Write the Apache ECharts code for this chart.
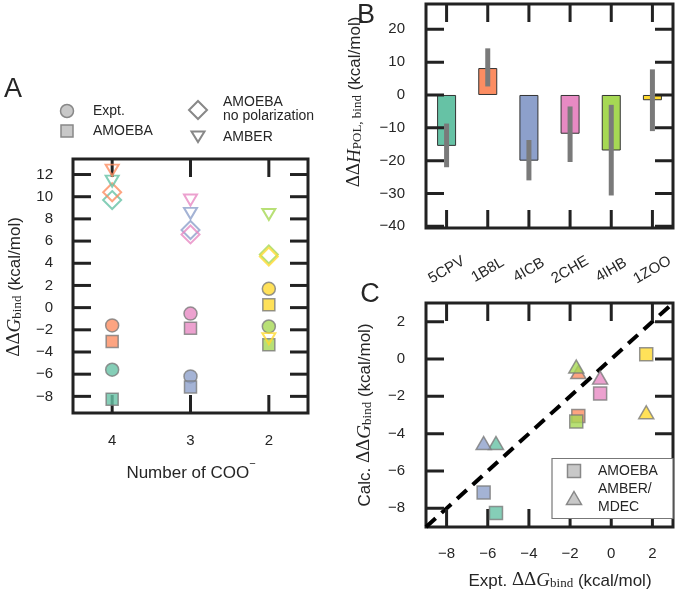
<!DOCTYPE html>
<html><head><meta charset="utf-8">
<script src="https://cdn.jsdelivr.net/npm/echarts@6/dist/echarts.min.js"></script>
<style>html,body{margin:0;padding:0;background:#fff}#c{width:677px;height:596px}</style>
</head><body><div id="c"></div>
<script>
// ---------------- data ----------------
const proteins = ['5CPV', '1B8L', '4ICB', '2CHE', '4IHB', '1ZOO'];
const colors = ['#66c2a5', '#fc8d62', '#8da0cb', '#e78ac3', '#a6d854', '#ffd92f'];
const nCOO = [4, 4, 3, 3, 2, 2];
const cooCategories = ['4', '3', '2'];
const expt = [-5.6, -1.6, -6.2, -0.54, -1.7, 1.7];
const amoeba = [-8.25, -3.05, -7.15, -1.85, -3.35, 0.25];
const amoebaNoPol = [9.7, 10.4, 7.0, 6.6, 4.8, 4.6];
const amber = [11.4, 12.4, 8.5, 9.7, 8.4, -2.8];
const amberMdec = [-4.5, -0.7, -4.5, -1.0, -0.4, -2.85];
const dHpol = [-15.5, 8.2, -20.0, -11.8, -16.9, -1.6];
const dHpolLow = [-22.0, 2.6, -26.0, -20.4, -30.6, -11.0];
const dHpolHigh = [-8.7, 14.2, -13.7, -3.5, -3.0, 7.8];
const ticksA = [-8, -6, -4, -2, 0, 2, 4, 6, 8, 10, 12];
const ticksB = [-40, -30, -20, -10, 0, 10, 20];
const ticksC = [-8, -6, -4, -2, 0, 2];
const diagonal = [-9, 3];

// ---------------- style ----------------
const FONT = '"Liberation Sans", Arial, sans-serif';
const SERIF = '"Liberation Serif", "DejaVu Serif", serif';
const TXT = '#262626';
const SPINE = '#222';
const fmt = v => v < 0 ? '\u2212' + Math.abs(v) : String(v);
const labelStyle = {color: TXT, fontSize: 15, fontFamily: FONT};
// plot boxes: [left, top, width, height]
const BOXES = [[73, 159, 235, 254], [426, 4, 247, 224], [426, 303, 247, 224]];
// axis ranges per panel
const RANGES = [
  {x: [-0.5, 2.5], y: [-9.5, 13.4]},
  {x: [-0.5, 5.5], y: [-40.5, 27.7]},
  {x: [-9, 3], y: [-9, 3]}
];

function valueAxis(grid, pos, min, max, ticks, margin) {
  return {type: 'value', gridIndex: grid, position: pos, min: min, max: max,
    axisLine: {show: false, onZero: false}, splitLine: {show: false}, axisTick: {show: false},
    axisLabel: Object.assign({}, labelStyle, {customValues: ticks, formatter: fmt, margin: margin})};
}
function catAxis(grid, pos, data, extra) {
  return {type: 'category', gridIndex: grid, position: pos, data: data, boundaryGap: true,
    axisLine: {show: false, onZero: false}, splitLine: {show: false}, axisTick: {show: false},
    axisLabel: Object.assign({}, labelStyle, {interval: 0}, extra || {})};
}
function hiddenAxis(grid, r) {
  return {type: 'value', gridIndex: grid, min: r[0], max: r[1], show: false,
    axisLine: {show: false, onZero: false}, splitLine: {show: false}, axisTick: {show: false}, axisLabel: {show: false}};
}

const EDGE = '#7a7a7a';
function filledPoints(xs, ys, isCat) {
  return proteins.map((p, i) => ({
    name: p,
    value: [isCat ? String(xs[i]) : xs[i], ys[i]],
    itemStyle: {color: colors[i], borderColor: EDGE, borderWidth: 1.5}
  }));
}
function openPoints(xs, ys) {
  return proteins.map((p, i) => ({
    name: p,
    value: [String(xs[i]), ys[i]],
    itemStyle: {color: 'rgba(0,0,0,0)', borderColor: colors[i], borderWidth: 2}
  }));
}

const series = [
  // Panel A
  {type: 'scatter', xAxisIndex: 0, yAxisIndex: 0, symbol: 'circle', symbolSize: 13, z: 3, data: filledPoints(nCOO, expt, true)},
  {type: 'scatter', xAxisIndex: 0, yAxisIndex: 0, symbol: 'rect', symbolSize: 12, z: 3, data: filledPoints(nCOO, amoeba, true)},
  {type: 'scatter', xAxisIndex: 0, yAxisIndex: 0, symbol: 'diamond', symbolSize: 18, z: 3, data: openPoints(nCOO, amoebaNoPol)},
  {type: 'scatter', xAxisIndex: 0, yAxisIndex: 0, symbol: 'triangle', symbolRotate: 180, symbolSize: [13, 11], z: 3, data: openPoints(nCOO, amber)},
  // Panel B
  {type: 'bar', xAxisIndex: 1, yAxisIndex: 1, barWidth: 19, z: 2,
    data: dHpol.map((v, i) => ({value: v, itemStyle: {color: colors[i], borderColor: '#333', borderWidth: 1}}))},
  {type: 'custom', xAxisIndex: 1, yAxisIndex: 1, z: 3,
    data: proteins.map((p, i) => [i, dHpolLow[i], dHpolHigh[i]]),
    encode: {x: 0, y: [1, 2]},
    renderItem: function (params, api) {
      const x = api.value(0);
      const p1 = api.coord([x, api.value(1)]);
      const p2 = api.coord([x, api.value(2)]);
      return {type: 'line', shape: {x1: p1[0], y1: p1[1], x2: p2[0], y2: p2[1]},
        style: {stroke: '#7a7a7a', lineWidth: 5}};
    }},
  // Panel C
  {type: 'line', xAxisIndex: 2, yAxisIndex: 2, symbol: 'none', z: 2, data: [[diagonal[0], diagonal[0]], [diagonal[1], diagonal[1]]],
    lineStyle: {color: '#000', width: 4, type: [13, 8], cap: 'butt'}},
  {type: 'scatter', xAxisIndex: 2, yAxisIndex: 2, symbol: 'rect', symbolSize: 13, z: 3, data: filledPoints(expt, amoeba, false)},
  {type: 'scatter', xAxisIndex: 2, yAxisIndex: 2, symbol: 'triangle', symbolSize: [15, 13], z: 3, data: filledPoints(expt, amberMdec, false)}
];

// inward ticks on all four sides: short line series on overlay grids (axes 3..5) with the same scales
const tickSpecs = [
  {xTicks: cooCategories.map((c, i) => i), yTicks: ticksA},
  {xTicks: proteins.map((p, i) => i), yTicks: ticksB},
  {xTicks: ticksC, yTicks: ticksC}
];
const TICK_PX = 18;
tickSpecs.forEach((s, k) => {
  const r = RANGES[k], b = BOXES[k];
  const dx = TICK_PX * (r.x[1] - r.x[0]) / b[2];
  const dy = TICK_PX * (r.y[1] - r.y[0]) / b[3];
  const segs = [];
  s.xTicks.forEach(v => {
    segs.push([[v, r.y[0]], [v, r.y[0] + dy]]);
    segs.push([[v, r.y[1]], [v, r.y[1] - dy]]);
  });
  s.yTicks.forEach(v => {
    segs.push([[r.x[0], v], [r.x[0] + dx, v]]);
    segs.push([[r.x[1], v], [r.x[1] - dx, v]]);
  });
  segs.forEach(seg => series.push({
    type: 'line', xAxisIndex: 3 + k, yAxisIndex: 3 + k, data: seg, symbol: 'none', silent: true, z: 2,
    clip: false, lineStyle: {color: SPINE, width: 3, cap: 'butt'}
  }));
});

// ---------------- text graphics ----------------
function richTitle(x, y, text, rotate) {
  return {type: 'text', x: x, y: y, rotation: rotate ? Math.PI / 2 : 0, silent: true,
    style: {text: text, fill: TXT, fontSize: 17, fontFamily: FONT, lineHeight: 24,
      align: 'center', verticalAlign: 'middle',
      rich: {
        d: {fontFamily: SERIF, fontSize: 19, lineHeight: 24, verticalAlign: 'bottom'},
        g: {fontFamily: SERIF, fontStyle: 'italic', fontSize: 19, lineHeight: 24, verticalAlign: 'bottom'},
        s: {fontFamily: SERIF, fontSize: 13, lineHeight: 12, verticalAlign: 'bottom'},
        sup: {fontFamily: FONT, fontSize: 11, lineHeight: 11, verticalAlign: 'top'},
        n: {fontFamily: FONT, fontSize: 17, lineHeight: 24, verticalAlign: 'bottom'}
      }}};
}
function txt(x, y, s, size, align) {
  return {type: 'text', x: x, y: y, silent: true,
    style: {text: s, fill: TXT, fontSize: size, fontFamily: FONT, align: align || 'left', verticalAlign: 'middle'}};
}
const LG_FILL = '#c8c8c8', LG_EDGE = '#888';
const graphics = [
  txt(13, 90, 'A', 27, 'center'),
  txt(366, 16, 'B', 27, 'center'),
  txt(370, 295, 'C', 27, 'center'),
  richTitle(12, 287, '{d|ΔΔ}{g|G}{s|bind}{n| (kcal/mol)}', true),
  richTitle(191, 470, '{n|Number of COO}{sup|\u2212}', false),
  richTitle(352, 102, '{d|ΔΔ}{g|H}{s|POL, bind}{n| (kcal/mol)}', true),
  richTitle(362, 415, '{n|Calc. }{d|ΔΔ}{g|G}{s|bind}{n| (kcal/mol)}', true),
  richTitle(560, 578, '{n|Expt. }{d|ΔΔ}{g|G}{s|bind}{n| (kcal/mol)}', false),
  // legend A
  {type: 'circle', shape: {cx: 67, cy: 111, r: 6.5}, style: {fill: LG_FILL, stroke: LG_EDGE, lineWidth: 1.5}, silent: true},
  {type: 'rect', shape: {x: 61, y: 125, width: 12, height: 12}, style: {fill: LG_FILL, stroke: LG_EDGE, lineWidth: 1.5}, silent: true},
  {type: 'polygon', shape: {points: [[198, 101], [207, 110], [198, 119], [189, 110]]}, style: {fill: 'none', stroke: LG_EDGE, lineWidth: 2}, silent: true},
  {type: 'polygon', shape: {points: [[191.5, 131.5], [204.5, 131.5], [198, 142]]}, style: {fill: 'none', stroke: LG_EDGE, lineWidth: 2}, silent: true},
  txt(93, 111, 'Expt.', 14),
  txt(93, 131, 'AMOEBA', 14),
  txt(223, 102, 'AMOEBA', 14),
  txt(223, 116, 'no polarization', 14),
  txt(223, 137, 'AMBER', 14),
  // legend C
  {type: 'rect', shape: {x: 552, y: 458.5, width: 121, height: 60}, style: {fill: '#fff', stroke: '#777', lineWidth: 1.2}, silent: true, z: 20},
  {type: 'rect', shape: {x: 567.5, y: 464.5, width: 13, height: 13}, style: {fill: LG_FILL, stroke: LG_EDGE, lineWidth: 1.5}, silent: true, z: 21},
  {type: 'polygon', shape: {points: [[574, 491.5], [581.5, 504.5], [566.5, 504.5]]}, style: {fill: LG_FILL, stroke: LG_EDGE, lineWidth: 1.5}, silent: true, z: 21},
  Object.assign(txt(598, 471, 'AMOEBA', 14), {z: 21}),
  Object.assign(txt(598, 489, 'AMBER/', 14), {z: 21}),
  Object.assign(txt(598, 507, 'MDEC', 14), {z: 21})
];

const gridList = BOXES.map(b => ({left: b[0], top: b[1], width: b[2], height: b[3],
    show: true, borderColor: SPINE, borderWidth: 3, backgroundColor: 'rgba(0,0,0,0)'}))
  .concat(BOXES.map(b => ({left: b[0], top: b[1], width: b[2], height: b[3], show: false})));

const option = {
  animation: false,
  backgroundColor: '#fff',
  grid: gridList,
  xAxis: [
    catAxis(0, 'bottom', cooCategories, {margin: 20}),
    catAxis(1, 'bottom', proteins, {rotate: 30, align: 'center', verticalAlign: 'middle', margin: 42}),
    valueAxis(2, 'bottom', -9, 3, ticksC, 19),
    hiddenAxis(3, RANGES[0].x), hiddenAxis(4, RANGES[1].x), hiddenAxis(5, RANGES[2].x)
  ],
  yAxis: [
    valueAxis(0, 'left', -9.5, 13.4, ticksA, 20),
    valueAxis(1, 'left', -40.5, 27.7, ticksB, 21),
    valueAxis(2, 'left', -9, 3, ticksC, 21),
    hiddenAxis(3, RANGES[0].y), hiddenAxis(4, RANGES[1].y), hiddenAxis(5, RANGES[2].y)
  ],
  series: series,
  graphic: graphics
};
const chart = echarts.init(document.getElementById('c'));
chart.setOption(option);
</script>
</body></html>
